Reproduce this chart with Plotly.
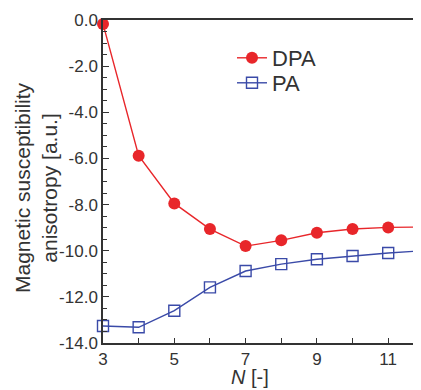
import plotly.graph_objects as go

N = [3, 4, 5, 6, 7, 8, 9, 10, 11, 12]
dpa = [-0.17, -5.88, -7.95, -9.06, -9.8, -9.55, -9.22, -9.06, -8.99, -8.97]
pa = [-13.26, -13.32, -12.6, -11.59, -10.88, -10.58, -10.37, -10.23, -10.1, -10.0]
x_ticks = [3, 5, 7, 9, 11]
y_ticks = [0, -2, -4, -6, -8, -10, -12, -14]

RED = "#e8262a"
BLUE = "#3a4aa8"
AX = "#333333"
FONT = "Liberation Sans, Arial, sans-serif"

# page has an 8px body margin; figure is sized so the plot lands where the reference has it
W, H = 413, 382
L, R, T, B = 95, 0, 12, 47
PW, PH = W - L - R, H - T - B


def px_x(sx):
    return (sx - 8 - L) / PW


def px_y(sy):
    return (H - B - (sy - 8)) / PH


fig = go.Figure()
fig.add_trace(go.Scatter(x=N, y=dpa, name="DPA", mode="lines+markers",
                         line=dict(color=RED, width=1.4),
                         marker=dict(symbol="circle", size=12, color=RED),
                         cliponaxis=False, legend="legend"))
fig.add_trace(go.Scatter(x=N, y=pa, name="PA", mode="lines+markers",
                         line=dict(color=BLUE, width=1.4),
                         marker=dict(symbol="square-open", size=11, color=BLUE,
                                     line=dict(width=1.4, color=BLUE)),
                         cliponaxis=False, legend="legend2"))

leg_common = dict(xanchor="left", yanchor="middle", bgcolor="rgba(0,0,0,0)",
                  itemwidth=30, font=dict(size=22, family=FONT))

fig.update_layout(
    width=W, height=H,
    margin=dict(l=L, r=R, t=T, b=B),
    paper_bgcolor="white", plot_bgcolor="white",
    font=dict(family=FONT, color=AX),
    showlegend=True,
    legend=dict(x=px_x(232), y=px_y(58), **leg_common),
    legend2=dict(x=px_x(232), y=px_y(83), **leg_common),
    xaxis=dict(range=[3, 11.92], tickvals=x_ticks, ticktext=[str(v) for v in x_ticks],
               showline=True, linecolor=AX, linewidth=1.5, mirror=True,
               ticks="inside", ticklen=5, tickcolor=AX, tickwidth=1,
               minor=dict(dtick=1, tick0=3, ticks="inside", ticklen=5, tickcolor=AX),
               showgrid=False, zeroline=False, automargin=False,
               tickfont=dict(size=17, family=FONT, color=AX)),
    yaxis=dict(range=[-14, 0], tickvals=y_ticks, ticktext=[f"{v:.1f}" for v in y_ticks],
               showline=True, linecolor=AX, linewidth=1.5, mirror=False,
               ticks="inside", ticklen=6, tickcolor=AX, tickwidth=1,
               minor=dict(dtick=0.5, ticks="inside", ticklen=4, tickcolor=AX),
               showgrid=False, zeroline=False, automargin=False,
               tickfont=dict(size=17, family=FONT, color=AX)),
    annotations=[
        dict(text="<i>N</i> [-]", xref="paper", yref="paper", x=px_x(250),
             y=px_y(377), xanchor="center", yanchor="middle", showarrow=False,
             font=dict(size=20, family=FONT, color=AX)),
        dict(text="Magnetic susceptibility<br>anisotropy [a.u.]", xref="paper", yref="paper",
             x=px_x(36), y=px_y(188), xanchor="center", yanchor="middle",
             textangle=-90, showarrow=False,
             font=dict(size=21, family=FONT, color=AX)),
    ],
)

fig.write_html("out.html")
